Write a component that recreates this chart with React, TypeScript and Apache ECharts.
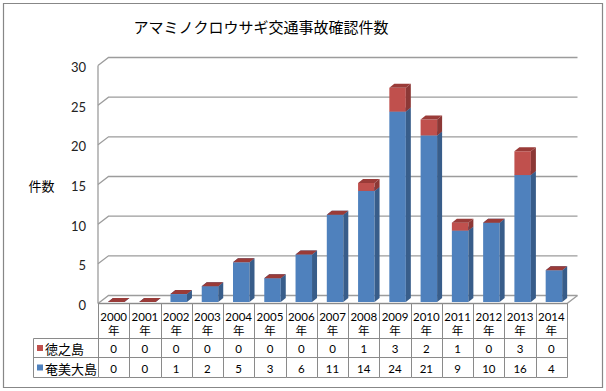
import React, { useEffect, useRef } from "react";
import * as echarts from "echarts";

const years = ["2000", "2001", "2002", "2003", "2004", "2005", "2006", "2007", "2008", "2009", "2010", "2011", "2012", "2013", "2014"];
const tokunoshima = [0, 0, 0, 0, 0, 0, 0, 0, 1, 3, 2, 1, 0, 3, 0];
const amami = [0, 0, 1, 2, 5, 3, 6, 11, 14, 24, 21, 9, 10, 16, 4];
const seriesNames = ["徳之島", "奄美大島"];
const yTicks = [0, 5, 10, 15, 20, 25, 30];
const titleText = "アマミノクロウサギ交通事故確認件数";
const yAxisName = "件数";
const yearSuffix = "年";

const FONT = "'Noto Sans CJK JP', 'Noto Sans', sans-serif";
const NUM_FONT = "Lato, 'Noto Sans CJK JP', sans-serif";
const GRID_COLOR = "#9c9c9c";
const TABLE_COLOR = "#8a8a8a";
const BLUE = { front: "#4F81BD", side: "#385D8A", top: "#3F6A9E" };
const RED = { front: "#C0504D", side: "#8C3836", top: "#9A3B38" };

// wall depth offsets
const WDX = 10.5;
const WDY = -8;
// bar geometry
const BAR_W = 16.5;
const BAR_SHIFT = -5.7;
const BAR_D = 5;
const BAR_H = 4;
// table rows
const T0 = 303.5;
const T1 = 338.5;
const T2 = 357.5;
const T3 = 377.5;
const HEADER_LEFT = 33.5;

function barRender(colors: { front: string; side: string; top: string }) {
  return (params: any, api: any) => {
    const i = api.value(0);
    const base = api.value(1);
    const top = api.value(2);
    const p0 = api.coord([i, base]);
    const p1 = api.coord([i, top]);
    const x0 = p0[0] + BAR_SHIFT;
    const yb = p0[1];
    const yt = p1[1];
    const children: any[] = [];
    if (yb - yt > 0.01) {
      children.push({
        type: "rect",
        shape: { x: x0, y: yt, width: BAR_W, height: yb - yt },
        style: { fill: colors.front },
      });
      children.push({
        type: "polygon",
        shape: {
          points: [
            [x0 + BAR_W, yt],
            [x0 + BAR_W + BAR_D, yt - BAR_H],
            [x0 + BAR_W + BAR_D, yb - BAR_H],
            [x0 + BAR_W, yb],
          ],
        },
        style: { fill: colors.side },
      });
    }
    children.push({
      type: "polygon",
      shape: {
        points: [
          [x0, yt],
          [x0 + BAR_D, yt - BAR_H],
          [x0 + BAR_W + BAR_D, yt - BAR_H],
          [x0 + BAR_W, yt],
        ],
      },
      style: { fill: colors.top },
    });
    return { type: "group", children };
  };
}

export default function App() {
  const ref = useRef<HTMLDivElement>(null);
  useEffect(() => {
    if (!ref.current) return;
    const chart = echarts.init(ref.current, undefined, { renderer: "svg" });

    const blueData = years.map((_, i) => [i, 0, amami[i]]);
    const redData = years.map((_, i) => [i, amami[i], amami[i] + tokunoshima[i]]);

    const option: any = {
      animation: false,
      backgroundColor: "#ffffff",
      grid: { left: 98, right: 39, top: 64, bottom: 89 },
      xAxis: {
        type: "category",
        data: years,
        axisLabel: { show: false },
        axisLine: { show: false },
        axisTick: { show: false },
        splitLine: { show: false },
      },
      yAxis: {
        type: "value",
        min: 0,
        max: 30,
        interval: 5,
        axisLabel: { show: false },
        axisLine: { show: false },
        axisTick: { show: false },
        splitLine: { show: false },
      },
      graphic: [
        {
          type: "rect",
          shape: { x: 3.5, y: 3.5, width: 599, height: 384 },
          style: { fill: "none", stroke: "#878787", lineWidth: 1.2 },
          silent: true,
        },
        {
          type: "text",
          x: 261,
          y: 26,
          style: {
            text: titleText,
            fontFamily: FONT,
            fontSize: 15,
            fill: "#000",
            textAlign: "center",
            textVerticalAlign: "middle",
          },
        },
        {
          type: "text",
          x: 41.5,
          y: 185,
          style: {
            text: yAxisName,
            fontFamily: FONT,
            fontSize: 13,
            fill: "#000",
            textAlign: "center",
            textVerticalAlign: "middle",
          },
        },
      ],
      series: [
        {
          type: "custom",
          name: "walls",
          silent: true,
          z: 1,
          data: yTicks.map((v) => [0, v]),
          renderItem: (params: any, api: any) => {
            const cs = params.coordSys;
            const v = api.value(1);
            const yv = api.coord([0, v])[1];
            const y = yv + 1.5;
            const xL = cs.x;
            const xR = cs.x + cs.width;
            const children: any[] = [
              {
                type: "polyline",
                shape: { points: [[xL, y], [xL + WDX, y + WDY], [xR + WDX, y + WDY]] },
                style: { stroke: GRID_COLOR, lineWidth: 1.3, fill: "none" },
              },
              {
                type: "text",
                x: xL - 12,
                y: yv + 3,
                style: {
                  text: String(v),
                  fontFamily: NUM_FONT,
                  fontSize: 13,
                  fill: "#222",
                  textAlign: "right",
                  textVerticalAlign: "middle",
                },
              },
            ];
            if (v === 0) {
              children.push({
                type: "polyline",
                shape: { points: [[xL, y], [xR, y], [xR + WDX, y + WDY]] },
                style: { stroke: GRID_COLOR, lineWidth: 1.3, fill: "none" },
              });
              const yTop = api.coord([0, yTicks[yTicks.length - 1]])[1] + 1.5;
              children.push({
                type: "line",
                shape: { x1: xL, y1: yTop, x2: xL, y2: y },
                style: { stroke: GRID_COLOR, lineWidth: 1.3 },
              });
            }
            return { type: "group", children };
          },
        },
        {
          type: "custom",
          name: seriesNames[1],
          z: 2,
          data: blueData,
          renderItem: barRender(BLUE),
        },
        {
          type: "custom",
          name: seriesNames[0],
          z: 3,
          data: redData,
          renderItem: barRender(RED),
        },
        {
          type: "custom",
          name: "table",
          silent: true,
          z: 4,
          data: years.map((_, i) => [i, 0]),
          renderItem: (params: any, api: any) => {
            const i = params.dataIndex;
            const cx = api.coord([i, 0])[0];
            const colW = api.size([1, 0])[0];
            const xa = Math.round(cx - colW / 2) + 0.5;
            const xb = Math.round(cx + colW / 2) + 0.5;
            const ls = { stroke: TABLE_COLOR, lineWidth: 1 };
            const ts = (text: string, y: number, lh?: number) => ({
              type: "text",
              x: cx,
              y,
              style: {
                text,
                fontFamily: NUM_FONT,
                fontSize: 11.5,
                lineHeight: lh,
                fill: "#000",
                textAlign: "center",
                textVerticalAlign: "middle",
              },
            });
            const children: any[] = [
              { type: "line", shape: { x1: xa, y1: T0, x2: xa, y2: T3 }, style: ls },
              { type: "line", shape: { x1: xa, y1: T0, x2: xb, y2: T0 }, style: ls },
              { type: "line", shape: { x1: xa, y1: T1, x2: xb, y2: T1 }, style: ls },
              { type: "line", shape: { x1: xa, y1: T2, x2: xb, y2: T2 }, style: ls },
              { type: "line", shape: { x1: xa, y1: T3, x2: xb, y2: T3 }, style: ls },
              ts(years[i] + "\n" + yearSuffix, 323.5, 13.5),
              ts(String(tokunoshima[i]), 348.5),
              ts(String(amami[i]), 368),
            ];
            if (i === years.length - 1) {
              children.push({ type: "line", shape: { x1: xb, y1: T0, x2: xb, y2: T3 }, style: ls });
            }
            if (i === 0) {
              children.push({ type: "line", shape: { x1: HEADER_LEFT, y1: T1, x2: HEADER_LEFT, y2: T3 }, style: ls });
              [T1, T2, T3].forEach((y) =>
                children.push({ type: "line", shape: { x1: HEADER_LEFT, y1: y, x2: xa, y2: y }, style: ls })
              );
              const rows = [
                { name: seriesNames[0], color: RED.front, y: (T1 + T2) / 2 },
                { name: seriesNames[1], color: BLUE.front, y: (T2 + T3) / 2 },
              ];
              rows.forEach((r) => {
                children.push({
                  type: "rect",
                  shape: { x: 37, y: r.y - 3, width: 6, height: 6 },
                  style: { fill: r.color },
                });
                children.push({
                  type: "text",
                  x: 45,
                  y: r.y + 0.5,
                  style: {
                    text: r.name,
                    fontFamily: FONT,
                    fontSize: 13,
                    fill: "#000",
                    textAlign: "left",
                    textVerticalAlign: "middle",
                  },
                });
              });
            }
            return { type: "group", children };
          },
        },
      ],
    };
    chart.setOption(option);
    return () => chart.dispose();
  }, []);
  return (
    <div
      ref={ref}
      style={{ position: "fixed", left: 0, top: 0, width: 606, height: 391, background: "#fff" }}
    />
  );
}
